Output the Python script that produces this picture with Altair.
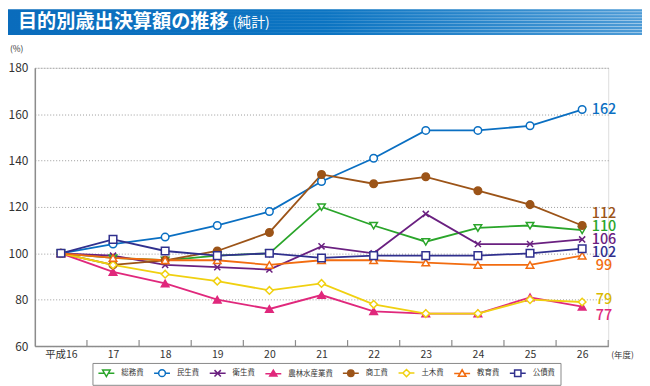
import altair as alt
import pandas as pd

# ---- data ----
years = [16, 17, 18, 19, 20, 21, 22, 23, 24, 25, 26]
series = ["総務費", "民生費", "衛生費", "農林水産業費", "商工費", "土木費", "教育費", "公債費"]
somu = [100, 98, 97, 99, 100, 120, 112, 105, 111, 112, 110]
minsei = [100, 104, 107, 112, 118, 131, 141, 153, 153, 155, 162]
eisei = [100, 99, 95, 94, 93, 103, 100, 117, 104, 104, 106]
norin = [100, 92, 87, 80, 76, 82, 75, 74, 74, 81, 77]
shoko = [100, 95, 97, 101, 109, 134, 130, 133, 127, 121, 112]
doboku = [100, 95, 91, 88, 84, 87, 78, 74, 74, 80, 79]
kyoiku = [100, 98, 97, 97, 95, 97, 97, 96, 95, 95, 99]
kosai = [100, 106, 101, 99, 100, 98, 99, 99, 99, 100, 102]
y_ticks = [60, 80, 100, 120, 140, 160, 180]

all_vals = [somu, minsei, eisei, norin, shoko, doboku, kyoiku, kosai]

# ---- styles ----
colors = ["#2aa52a", "#0a6fc2", "#6a2080", "#e0287c", "#9c5418", "#f0d010", "#f26c10", "#30308e"]
label_colors = ["#2aa52a", "#0a6fc2", "#6a2080", "#e0287c", "#9c5418", "#d9b800", "#f26c10", "#30308e"]
fills = ["white", "white", "white", "#e0287c", "#9c5418", "white", "white", "white"]
shapes = [
    "M-1,-0.8L1,-0.8L0,0.9Z",
    "circle",
    "M-0.8,-0.8L0.8,0.8M0.8,-0.8L-0.8,0.8",
    "triangle-up",
    "circle",
    "diamond",
    "triangle-up",
    "square",
]
legend_paths = [
    "M-2,0H-0.5M0.5,0H2M-0.95,-0.8H0.95L0,0.85Z",
    "M-2,0H-0.85M0.85,0H2M-0.85,0A0.85,0.85 0 1,0 0.85,0A0.85,0.85 0 1,0 -0.85,0Z",
    "M-2,0H2M-0.8,-0.8L0.8,0.8M0.8,-0.8L-0.8,0.8",
    "M-2,0H2M-0.9,0.6H0.9L0,-0.9Z",
    "M-2,0H2M-0.8,0A0.8,0.8 0 1,0 0.8,0A0.8,0.8 0 1,0 -0.8,0Z",
    "M-2,0H-0.9M0.9,0H2M-0.9,0L0,-0.9L0.9,0L0,0.9Z",
    "M-2,0H-0.55M0.55,0H2M-0.95,0.75H0.95L0,-0.9Z",
    "M-2,0H-0.8M0.8,0H2M-0.8,-0.8H0.8V0.8H-0.8Z",
]
label_dy = [-3, 0, 1, 9, -12, -2, 10, 4]

FONT = "Noto Sans CJK JP"
W, H = 577, 280

rows = []
for s, vals in zip(series, all_vals):
    for yr, v in zip(years, vals):
        rows.append({"series": s, "year": yr, "value": v})
df = pd.DataFrame(rows)

xs = alt.X("year:Q", scale=alt.Scale(domain=[15.5, 26.5], nice=False, zero=False),
           axis=alt.Axis(values=years, ticks=False, grid=False, title=None,
                         labelExpr="datum.value == 16 ? '平成16' : datum.label",
                         labelFont=FONT, labelFontSize=10.5, labelColor="#333",
                         labelPadding=4, domainColor="#8c8c8c", domainWidth=1.5))
ys = alt.Y("value:Q", scale=alt.Scale(domain=[60, 180], nice=False, zero=False),
           axis=alt.Axis(values=y_ticks, ticks=False, title=None, grid=True,
                         gridColor="#9a9a9a", gridDash=[1, 2], gridWidth=1,
                         labelFont=FONT, labelFontSize=12, labelColor="#333",
                         labelPadding=7, domainColor="#8c8c8c", domainWidth=1.5))

legend = alt.Legend(
    orient="none", legendX=58, legendY=297, direction="horizontal", columns=8,
    title=None, labelFont=FONT, labelFontSize=7.5, labelColor="#333",
    symbolSize=64, symbolStrokeWidth=1.5, symbolOffset=4, labelOffset=10,
    columnPadding=7, padding=5, strokeColor="#888", fillColor="white",
)

lines = alt.Chart(df).mark_line(strokeWidth=1.8).encode(
    x=xs, y=ys,
    color=alt.Color("series:N", scale=alt.Scale(domain=series, range=colors), legend=None),
    order=alt.Order("year:Q"),
)

points = alt.Chart(df).mark_point(size=58, strokeWidth=1.5, opacity=1, filled=False).encode(
    x="year:Q", y="value:Q",
    stroke=alt.Stroke("series:N", scale=alt.Scale(domain=series, range=colors), legend=None),
    fill=alt.Fill("series:N", scale=alt.Scale(domain=series, range=fills), legend=None),
    shape=alt.Shape("series:N", scale=alt.Scale(domain=series, range=shapes), legend=None),
)

# legend-only layer (no marks drawn): symbols show line + marker
legend_layer = alt.Chart(df).transform_filter("false").mark_point(
    size=64, strokeWidth=1.5, opacity=1, filled=False).encode(
    x="year:Q", y="value:Q",
    stroke=alt.Stroke("series:N", scale=alt.Scale(domain=series, range=colors), legend=legend),
    fill=alt.Fill("series:N", scale=alt.Scale(domain=series, range=fills), legend=legend),
    shape=alt.Shape("series:N", scale=alt.Scale(domain=series, range=legend_paths), legend=legend),
)

# tick marks pointing up at category boundaries
bounds = pd.DataFrame({"b": [y + 0.5 for y in years]})
ticks = alt.Chart(bounds).mark_rule(color="#8c8c8c", strokeWidth=1.2).encode(
    x="b:Q", y=alt.value(H), y2=alt.value(H - 6))

end_labels = []
for s, vals, c, dy in zip(series, all_vals, label_colors, label_dy):
    d = pd.DataFrame({"year": [years[-1]], "value": [vals[-1]]})
    end_labels.append(alt.Chart(d).mark_text(
        dx=22, dy=dy, align="center", baseline="middle", font=FONT, fontSize=14.5,
        fontWeight=500, color=c).encode(x="year:Q", y="value:Q", text="value:Q"))

one = pd.DataFrame({"k": [0]})
banner = alt.Chart(one).mark_rect(
    color=alt.Gradient(gradient="linear", x1=0, x2=1, y1=0, y2=0, stops=[
        alt.GradientStop(color="#0a6cbc", offset=0),
        alt.GradientStop(color="#0b74c2", offset=0.5),
        alt.GradientStop(color="#4d9bd6", offset=1)])
).encode(x=alt.value(-27), x2=alt.value(611), y=alt.value(-59), y2=alt.value(-33))

stripe_grad = alt.Gradient(gradient="linear", x1=0, x2=1, y1=0, y2=0, stops=[
    alt.GradientStop(color="rgba(255,255,255,0)", offset=0),
    alt.GradientStop(color="rgba(255,255,255,0.05)", offset=0.4),
    alt.GradientStop(color="rgba(255,255,255,0.45)", offset=1)])
stripes = []
for k in range(8):
    top = -57 + k * 3
    stripes.append(alt.Chart(one).mark_rect(color=stripe_grad).encode(
        x=alt.value(-27), x2=alt.value(611), y=alt.value(top), y2=alt.value(top + 1)))

title1 = alt.Chart(one).mark_text(align="left", baseline="alphabetic", font=FONT, fontSize=19.3,
                                  fontWeight="bold", color="white").encode(
    x=alt.value(-17), y=alt.value(-40), text=alt.value("目的別歳出決算額の推移"))
title2 = alt.Chart(one).mark_text(align="left", baseline="alphabetic", font=FONT, fontSize=14,
                                  color="white").encode(
    x=alt.value(199), y=alt.value(-41), text=alt.value("(純計)"))
pct = alt.Chart(one).mark_text(align="left", baseline="middle", font=FONT, fontSize=8.5,
                               color="#333").encode(
    x=alt.value(-25), y=alt.value(-19), text=alt.value("(%)"))
nendo = alt.Chart(one).mark_text(align="left", baseline="middle", font=FONT, fontSize=8.5,
                                 color="#333").encode(
    x=alt.value(580), y=alt.value(289), text=alt.value("(年度)"))

chart = alt.layer(banner, *stripes, title1, title2, pct, nendo, lines, points, legend_layer, ticks,
                  *end_labels).resolve_scale(
    shape="independent", stroke="independent", fill="independent"
).properties(
    width=W, height=H,
    padding={"left": 27, "top": 59, "right": 34, "bottom": 39},
    autosize="none",
).configure_view(fill="#f7f7fc", stroke=None).configure(background="white")

chart.save("out.html", embed_options={"renderer": "svg", "actions": False})
